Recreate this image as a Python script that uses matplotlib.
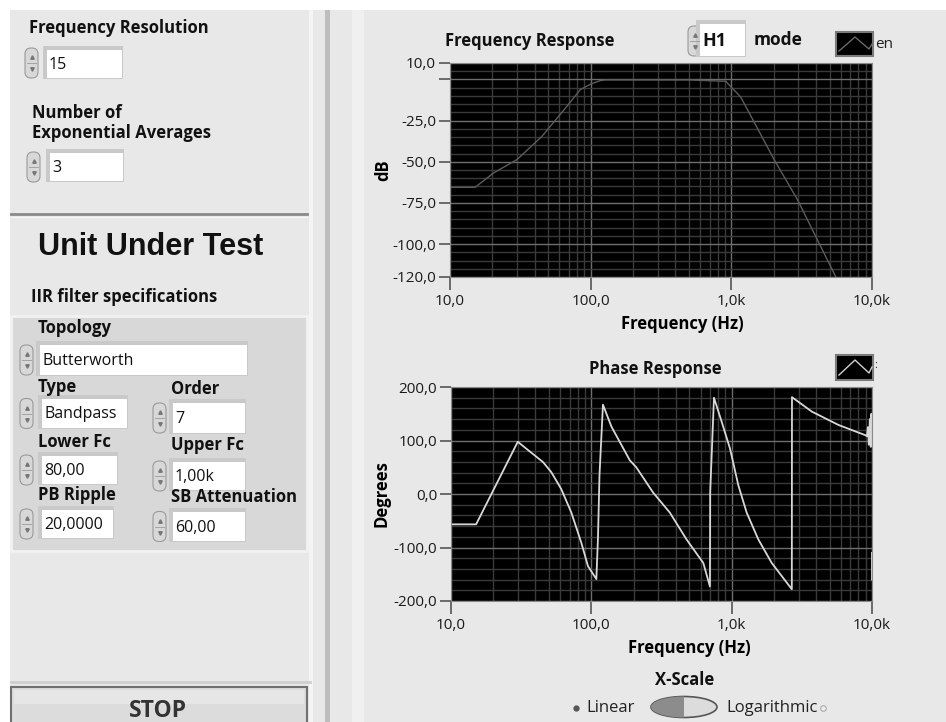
import numpy as np
import matplotlib.pyplot as plt
from matplotlib.patches import Rectangle, Ellipse, FancyBboxPatch
from matplotlib.ticker import MultipleLocator, LogLocator, NullFormatter

plt.rcParams['font.family'] = ['Open Sans', 'DejaVu Sans']

# frequency response (Hz, dB)
mag_freq = [10, 15.1, 20.4, 29.9, 45, 67.8, 84.3, 100, 117, 127, 232, 500, 912, 1167, 2015, 2951, 5534, 6500]
mag_db = [-65.5, -65.5, -56.8, -48.7, -34.6, -16.3, -6.2, -2.8, -0.7, -0.3, -0.3, -0.3, -1.1, -10.7, -48.7, -73, -120, -145]

# phase response (Hz, degrees), nan breaks the line
phase_freq = [10, 15.1, 29.9, 34.3, 45.2, 51.8, 61, 72, 84.8, 94.7, 108.6, 111.6, 114.3, 121,
              139, 188, 209, 275, 363, 477, 628, 700, 703, 748, 849, 973, 1116, 1280, 1549,
              1931, 2683, 2690, 3727, 5776, 8955, 9200, 9350, 9500, 9650, 9800, 9900, 10000,
              np.nan, 9995, 10000]
phase_deg = [-56.7, -56.7, 97.6, 85, 59.8, 41, 9.4, -34.6, -91, -135, -159, -79, 35, 167,
             126, 63, 50, 3, -35, -85, -129, -173, 3, 180, 135, 85, 16, -35, -85,
             -129, -178, 181, 154, 129, 110, 108, 125, 92, 140, 88, 150, 96,
             np.nan, -110, -160]

freq_ticks = [10, 100, 1000, 10000]
freq_labels = ['10,0', '100,0', '1,0k', '10,0k']
mag_ticks = [10, 0, -25, -50, -75, -100, -120]
mag_labels = ['10,0', '', '-25,0', '-50,0', '-75,0', '-100,0', '-120,0']
phase_ticks = [200, 100, 0, -100, -200]
phase_labels = ['200,0', '100,0', '0,0', '-100,0', '-200,0']

# front panel controls: (label, value)
controls_top = [('Frequency Resolution', '15'), ('Number of\nExponential Averages', '3')]
filter_specs = [('Topology', 'Butterworth'), ('Type', 'Bandpass'), ('Order', '7'),
                ('Lower Fc', '80,00'), ('Upper Fc', '1,00k'),
                ('PB Ripple', '20,0000'), ('SB Attenuation', '60,00')]

W, H = 946, 722
fig = plt.figure(figsize=(W / 100, H / 100), dpi=100, facecolor='#e8e8e8')

bg = fig.add_axes([0, 0, 1, 1])
bg.set_xlim(0, W)
bg.set_ylim(H, 0)
bg.axis('off')

# window frame
bg.add_patch(Rectangle((0, 0), W, 10, fc='white', ec='none'))
bg.add_patch(Rectangle((0, 0), 10, H, fc='white', ec='none'))
bg.add_patch(Rectangle((309, 10), 4, H, fc='#f4f4f4', ec='none'))
bg.add_patch(Rectangle((325, 10), 5, H, fc='#bdbdbd', ec='none'))
bg.add_patch(Rectangle((352, 10), 12, H, fc='#f0f0f0', ec='none'))


def spinner(x, yc):
    bg.add_patch(FancyBboxPatch((x, yc - 15), 13, 30, boxstyle='round,pad=0,rounding_size=6',
                                fc='#d8d8d8', ec='#9a9a9a', lw=0.8))
    bg.plot([x + 6.5], [yc - 6], marker='^', ms=2.5, color='#777777')
    bg.plot([x + 6.5], [yc + 6], marker='v', ms=2.5, color='#777777')
    bg.plot([x + 2, x + 11], [yc, yc], color='#9a9a9a', lw=0.6)


def field(x0, y0, x1, y1, txt):
    bg.add_patch(Rectangle((x0 - 4, y0 - 4), x1 - x0 + 5, y1 - y0 + 5, fc='#c9c9c9', ec='none'))
    bg.add_patch(Rectangle((x0, y0), x1 - x0, y1 - y0, fc='white', ec='none'))
    bg.text(x0 + 2, (y0 + y1) / 2 + 1, txt, ha='left', va='center', size=11.5, color='#111111')


def label(x, y, txt, size=12):
    bg.text(x, y, txt, ha='left', va='center', size=size, weight='bold', color='#111111',
            linespacing=1.2)


# left panel: acquisition settings
label(29, 28, controls_top[0][0])
spinner(25, 63)
field(47, 50, 122, 78, controls_top[0][1])
label(32, 123, controls_top[1][0])
spinner(27, 167)
field(50, 153, 123, 181, controls_top[1][1])

bg.plot([11, 307], [214, 214], color='#8a8a8a', lw=2)
bg.plot([11, 307], [216.5, 216.5], color='#f6f6f6', lw=1)

bg.text(151, 247, 'Unit Under Test', ha='center', va='center', size=22, weight='bold',
        family=['Liberation Sans', 'DejaVu Sans'], color='#111111')
label(31, 297, 'IIR filter specifications')

# filter cluster
bg.add_patch(Rectangle((11, 316), 296, 235, fc='#d8d8d8', ec='#f2f2f2', lw=2))
spec_pos = {
    'Topology': ((38, 328), 20, (40, 345, 247, 375)),
    'Type': ((38, 387), 20, (42, 399, 127, 428)),
    'Order': ((171, 389), 153, (173, 403, 245, 433)),
    'Lower Fc': ((38, 442), 20, (42, 456, 117, 484)),
    'Upper Fc': ((171, 445), 153, (173, 462, 245, 490)),
    'PB Ripple': ((38, 495), 20, (42, 510, 113, 538)),
    'SB Attenuation': ((171, 497), 153, (173, 512, 245, 541)),
}
for name, value in filter_specs:
    (lx, ly), sx, (x0, y0, x1, y1) = spec_pos[name]
    label(lx, ly, name)
    spinner(sx, (y0 + y1) / 2)
    field(x0, y0, x1, y1, value)

# stop button
bg.plot([11, 310], [682, 682], color='#cfcfcf', lw=2)
bg.add_patch(Rectangle((11, 687), 296, 40, fc='#dcdcdc', ec='#707070', lw=1.5))
bg.add_patch(Rectangle((14, 690), 290, 14, fc='#e6e6e6', ec='none'))
bg.text(158, 711, 'STOP', ha='center', va='center', size=16.5, weight='bold', color='#333333')


def legend_box(x0, y0, x1, y1, col):
    bg.add_patch(Rectangle((x0, y0), x1 - x0, y1 - y0, fc='black', ec='#7a7a7a', lw=1.5))
    bg.plot([x0 + 3, x0 + 19, x0 + 33, x1 - 1],
            [y1 - 5, y0 + 5, y1 - 7, y0 + 12], color=col, lw=1)


# mode selector and plot legends
spinner(688, 41)
field(700, 24, 745, 56, '')
bg.text(702, 41, 'H1', ha='left', va='center', size=13, weight='bold', color='#111111')
bg.text(754, 40, 'mode', ha='left', va='center', size=12.5, weight='bold', color='#111111')
legend_box(836, 32, 873, 56, '#6a6a6a')
bg.text(875, 45, 'en', ha='left', va='center', size=11, color='#222222')
legend_box(836, 355, 873, 380, '#d0d0d0')
bg.text(874, 366, ':', ha='left', va='center', size=8, color='#222222')

# x-scale switch
bg.text(685, 680, 'X-Scale', ha='center', va='center', size=12, weight='bold', color='#111111')
bg.plot([576], [708], marker='o', ms=3.5, color='#555555')
bg.text(586, 708, 'Linear', ha='left', va='center', size=12, color='#222222')
sw = Ellipse((684, 707), 66, 21, fc='#dcdcdc', ec='#555555', lw=1.2)
bg.add_patch(sw)
half = Rectangle((650, 696), 34, 22, fc='#8c8c8c', ec='none')
bg.add_patch(half)
half.set_clip_path(sw)
bg.text(726, 708, 'Logarithmic', ha='left', va='center', size=12, color='#222222')
bg.plot([823], [708], marker='o', ms=4, mfc='#eeeeee', mec='#aaaaaa', mew=0.8)


def make_axes(x0, y0, x1, y1):
    return fig.add_axes([x0 / W, 1 - y1 / H, (x1 - x0) / W, (y1 - y0) / H])


def style(ax, yticks, ylabels, ystep, ylim):
    ax.set_facecolor('black')
    ax.set_xscale('log')
    ax.set_xlim(10, 10000)
    ax.set_ylim(*ylim)
    ax.set_xticks(freq_ticks, freq_labels)
    ax.xaxis.set_minor_locator(LogLocator(base=10, subs=np.arange(2, 10)))
    ax.xaxis.set_minor_formatter(NullFormatter())
    ax.set_yticks(yticks, ylabels)
    ax.yaxis.set_minor_locator(MultipleLocator(ystep))
    ax.set_axisbelow(True)
    ax.grid(which='minor', color='#3a3a3a', lw=1)
    ax.grid(which='major', color='#6e6e6e', lw=1)
    ax.tick_params(which='minor', length=0)
    ax.tick_params(which='major', direction='out', color='#555555', labelsize=11,
                   labelcolor='#1a1a1a', width=1.2)
    ax.tick_params(axis='y', length=8, pad=2)
    ax.tick_params(axis='x', length=9, pad=3)
    for s in ax.spines.values():
        s.set_color('#8a8a8a')


ax1 = make_axes(450, 63, 872, 277)
style(ax1, mag_ticks, mag_labels, 5, (-120, 10))
ax1.plot(mag_freq, mag_db, color='#5c5c5c', lw=1)
ax1.text(0.19, 1.103, 'Frequency Response', transform=ax1.transAxes, ha='center', va='center',
         size=12, weight='bold', color='#111111')
ax1.set_xlabel('Frequency (Hz)', size=12, weight='bold', va='center')
ax1.xaxis.set_label_coords(0.55, -0.22)
ax1.set_ylabel('dB', size=12, weight='bold', va='center')
ax1.yaxis.set_label_coords(-0.159, 0.5)

ax2 = make_axes(451, 387, 872, 601)
style(ax2, phase_ticks, phase_labels, 20, (-200, 200))
ax2.plot(phase_freq, phase_deg, color='#d8d8d8', lw=1.3)
ax2.text(0.485, 1.084, 'Phase Response', transform=ax2.transAxes, ha='center', va='center',
         size=12, weight='bold', color='#111111')
ax2.set_xlabel('Frequency (Hz)', size=12, weight='bold', va='center')
ax2.xaxis.set_label_coords(0.565, -0.22)
ax2.set_ylabel('Degrees', size=12, weight='bold', va='center')
ax2.yaxis.set_label_coords(-0.164, 0.5)

fig.savefig('out.png', dpi=100, facecolor=fig.get_facecolor())
